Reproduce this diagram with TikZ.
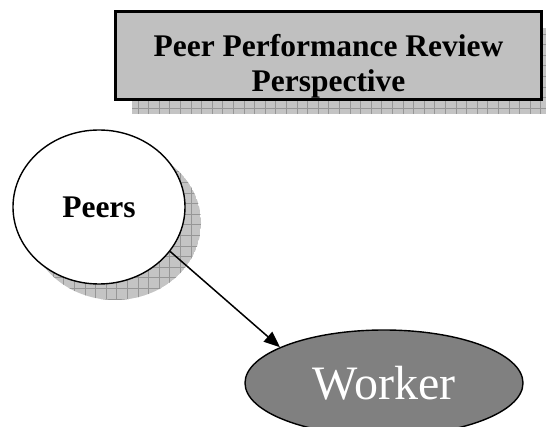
\documentclass[tikz,border=0pt]{standalone}
\usepackage{fontspec}
\setmainfont{Liberation Serif}
\usetikzlibrary{shapes.geometric,arrows.meta}
\definecolor{boxgray}{HTML}{C0C0C0}
\definecolor{shadowfill}{HTML}{C4C4C4}
\definecolor{shadowline}{HTML}{969696}
\definecolor{workergray}{HTML}{808080}
\tikzset{
  titlebox/.style={rectangle,draw=black,line width=1.6pt,fill=boxgray,minimum width=425pt,minimum height=87pt,inner sep=0pt},
  titletext/.style={align=center,inner sep=0pt,font=\bfseries\fontsize{31.5}{35}\selectfont},
  peersnode/.style={ellipse,draw=black,line width=1.4pt,fill=white,minimum width=172pt,minimum height=154pt,inner sep=0pt,font=\bfseries\fontsize{31.5}{35}\selectfont},
  workernode/.style={ellipse,draw=black,line width=1.4pt,fill=workergray,text=white,minimum width=278pt,minimum height=106pt,inner sep=0pt,font=\fontsize{48}{52}\selectfont},
  shadowgrid/.style={draw=shadowline,line width=0.5pt},
  arrowline/.style={draw=black,line width=1.5pt,-{Triangle[length=16pt,width=13pt]}}
}
\begin{document}
\begin{tikzpicture}[x=1pt,y=1pt]
\useasboundingbox (0,0) rectangle (546,426);
% title shadow
\begin{scope}
  \clip (132,312) rectangle (557,398);
  \fill[shadowfill] (132,312) rectangle (557,398);
  \draw[shadowgrid,step=10.6] (132,312) grid (557,398);
\end{scope}
% peers shadow
\begin{scope}
  \clip (115,203) ellipse [x radius=86, y radius=77];
  \fill[shadowfill] (115,203) ellipse [x radius=86, y radius=77];
  \draw[shadowgrid,step=10.6] (20,120) grid (210,290);
\end{scope}
% title box
\node[titlebox] (title) at (328.5,370.5) {};
\begin{scope}
  \clip (title.south west) rectangle (title.north east);
  \node[titletext] (titletxt) at (328.5,359.5) {Peer Performance Review\\Perspective};
\end{scope}
\draw[line width=1.6pt] (title.south west) rectangle (title.north east);
% nodes
\node[peersnode] (peers) at (99,219) {Peers};
\node[workernode] (worker) at (384,43) {Worker};
% connector
\draw[arrowline] (peers.-32) -- (worker.161);
\end{tikzpicture}
\end{document}
